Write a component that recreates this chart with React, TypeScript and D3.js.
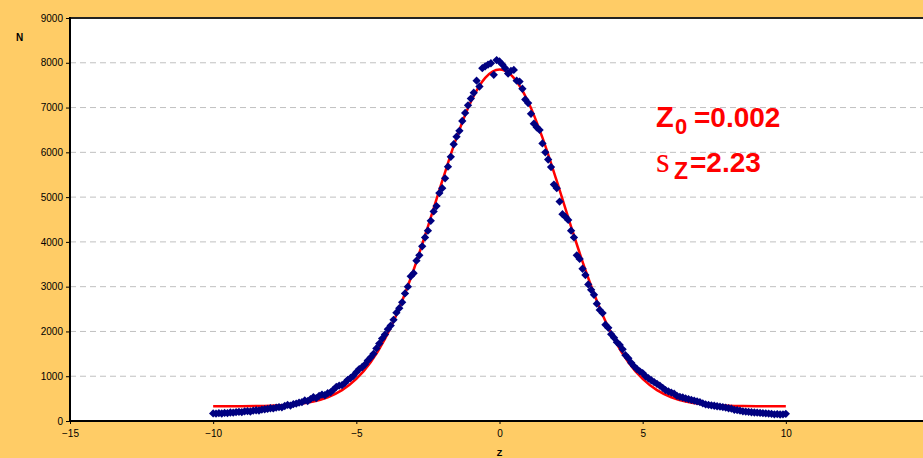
import { useEffect, useRef } from 'react'
import * as d3 from 'd3'

// measured counts, z from -10 to 10 in steps of 0.1
const zStart = -10
const zStep = 0.1
const counts = [
  170, 165, 175, 168, 180, 178, 190, 185, 200, 205,
  198, 215, 220, 212, 230, 240, 235, 255, 262, 270,
  285, 280, 300, 310, 305, 335, 360, 345, 375, 390,
  410, 420, 460, 445, 490, 530, 510, 560, 590, 575,
  620, 640, 700, 760, 790, 800, 850, 920, 960, 1010,
  1090, 1160, 1200, 1260, 1350, 1420, 1500, 1620, 1730, 1840,
  1930, 2050, 2130, 2260, 2420, 2520, 2650, 2850, 3000, 3230,
  3300, 3580, 3700, 3900, 4100, 4250, 4470, 4680, 4800, 5090,
  5200, 5420, 5680, 5900, 6180, 6350, 6480, 6700, 6880, 7050,
  7200, 7330, 7600, 7470, 7880, 7920, 7960, 7990, 7730, 8060,
  8030,
  7960, 7880, 7760, 7820, 7840, 7600, 7580, 7420, 7180, 7100,
  6860, 6640, 6560, 6500, 6200, 6000, 5840, 5670, 5280, 5200,
  4900, 4620, 4560, 4490, 4250, 4100, 3700, 3620, 3400, 3260,
  3050, 2930, 2820, 2620, 2480, 2410, 2150, 2080, 1940, 1860,
  1760, 1700, 1600, 1470, 1400, 1300, 1220, 1160, 1110, 1070,
  1000, 955, 910, 870, 830, 790, 740, 690, 660, 635,
  610, 560, 540, 525, 505, 490, 470, 455, 440, 420,
  395, 370, 360, 350, 340, 330, 320, 310, 300, 285,
  275, 250, 245, 230, 215, 210, 205, 195, 190, 185,
  180, 175, 172, 165, 160, 150, 155, 145, 150, 160,
]

const fitZ = d3.range(-10, 10.01, 0.5)
const fitN = [
  330, 331, 332, 335, 342, 356, 385, 437, 531, 689,
  939, 1312, 1835, 2524, 3373, 4342, 5360, 6328, 7131, 7663,
  7850,
  7663, 7131, 6328, 5360, 4342, 3373, 2524, 1835, 1312, 939,
  689, 531, 437, 385, 356, 342, 335, 332, 331, 330,
]

const xTicks = [-15, -10, -5, 0, 5, 10]
const yTicks = [0, 1000, 2000, 3000, 4000, 5000, 6000, 7000, 8000, 9000]

const W = 923
const H = 458

export default function App() {
  const ref = useRef<SVGSVGElement>(null)

  useEffect(() => {
    const svg = d3.select(ref.current)
    svg.selectAll('*').remove()

    const left = 70
    const top = 18
    const bottom = 421
    const x = d3.scaleLinear().domain([-15, 15]).range([left, 929])
    const y = d3.scaleLinear().domain([0, 9000]).range([bottom, top])

    // background
    svg.append('rect').attr('width', W).attr('height', H).attr('fill', '#FFCC66')
    svg.append('rect')
      .attr('x', left).attr('y', top)
      .attr('width', W - left).attr('height', bottom - top)
      .attr('fill', '#ffffff')

    // gridlines
    svg.append('g')
      .selectAll('line')
      .data(yTicks.filter((t) => t > 0 && t < 9000))
      .join('line')
      .attr('x1', left).attr('x2', W)
      .attr('y1', (d) => y(d)).attr('y2', (d) => y(d))
      .attr('stroke', '#c0c0c0')
      .attr('stroke-width', 1)
      .attr('stroke-dasharray', '6,4')

    // fitted curve
    const line = d3.line<number>()
      .x((_, i) => x(fitZ[i]))
      .y((d) => y(d))
      .curve(d3.curveMonotoneX)
    svg.append('path')
      .datum(fitN)
      .attr('fill', 'none')
      .attr('stroke', '#ff0000')
      .attr('stroke-width', 2.5)
      .attr('d', line)

    // data points
    const diamond = d3.symbol().type(d3.symbolDiamond2).size(44)
    svg.append('g')
      .selectAll('path')
      .data(counts)
      .join('path')
      .attr('d', diamond)
      .attr('transform', (d, i) => `translate(${x(zStart + i * zStep)},${y(d)})`)
      .attr('fill', '#000080')

    // axes
    const font = 'Arial, "Liberation Sans", sans-serif'
    const yAxis = svg.append('g')
      .attr('transform', `translate(${left},0)`)
      .call(d3.axisLeft(y).tickValues(yTicks).tickSize(4).tickPadding(3).tickFormat(d3.format('d')))
    yAxis.select('.domain').remove()
    yAxis.selectAll('line').attr('stroke', '#000')
    yAxis.selectAll('text').attr('font-family', font).attr('font-size', 10).attr('fill', '#000')

    const xAxis = svg.append('g')
      .attr('transform', `translate(0,${bottom})`)
      .call(d3.axisBottom(x).tickValues(xTicks).tickSize(3).tickPadding(6))
    xAxis.select('.domain').remove()
    xAxis.selectAll('line').attr('stroke', '#000')
    xAxis.selectAll('text').attr('font-family', font).attr('font-size', 10).attr('fill', '#000')

    // frame lines
    svg.append('line').attr('x1', left).attr('x2', W).attr('y1', top).attr('y2', top)
      .attr('stroke', '#222').attr('stroke-width', 2)
    svg.append('line').attr('x1', left).attr('x2', W).attr('y1', bottom).attr('y2', bottom)
      .attr('stroke', '#000').attr('stroke-width', 2)
    svg.append('line').attr('x1', left).attr('x2', left).attr('y1', top - 1).attr('y2', bottom + 1)
      .attr('stroke', '#000').attr('stroke-width', 2)

    // axis titles
    svg.append('text').attr('x', 16).attr('y', 41)
      .attr('font-family', font).attr('font-size', 10).attr('font-weight', 'bold')
      .text('N')
    svg.append('text').attr('x', x(0)).attr('y', 456).attr('text-anchor', 'middle')
      .attr('font-family', font).attr('font-size', 9).attr('font-weight', 'bold')
      .text('Z')

    // fit annotations
    const t1 = svg.append('text').attr('fill', '#ff0000').attr('font-family', font).attr('font-weight', 'bold')
    t1.append('tspan').attr('x', 656).attr('y', 127).attr('font-size', 29).text('Z')
    t1.append('tspan').attr('x', 675).attr('y', 134).attr('font-size', 22).text('0')
    t1.append('tspan').attr('x', 694).attr('y', 127).attr('font-size', 28).text('=0.002')

    const t2 = svg.append('text').attr('fill', '#ff0000')
    t2.append('tspan').attr('x', 656).attr('y', 172).attr('font-size', 35)
      .attr('font-family', '"Liberation Serif", "Times New Roman", serif').text('s')
    t2.append('tspan').attr('x', 674).attr('y', 179).attr('font-size', 23)
      .attr('font-family', font).attr('font-weight', 'bold').text('Z')
    t2.append('tspan').attr('x', 690).attr('y', 172).attr('font-size', 28)
      .attr('font-family', font).attr('font-weight', 'bold').text('=2.23')
  }, [])

  return (
    <svg
      ref={ref}
      width={W}
      height={H}
      style={{ position: 'absolute', left: 0, top: 0, display: 'block' }}
    />
  )
}
